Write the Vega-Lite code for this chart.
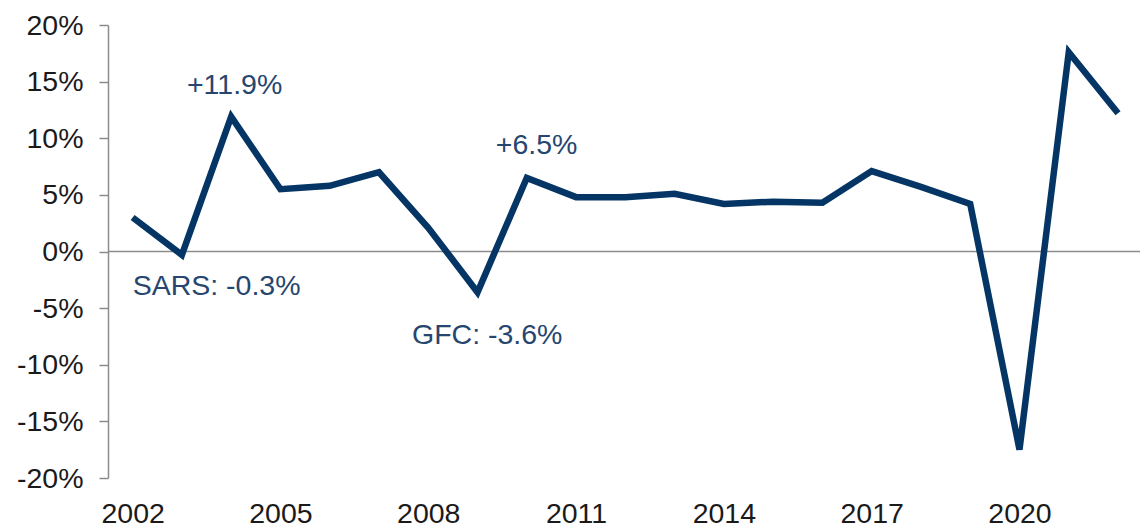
{
  "$schema": "https://vega.github.io/schema/vega-lite/v6.json",
  "autosize": "none",
  "width": 1032,
  "height": 453,
  "padding": {"left": 108, "top": 25, "right": 0, "bottom": 51},
  "background": "white",
  "config": {"view": {"stroke": null}, "font": "Liberation Sans"},
  "datasets": {
    "growth": [
      {"year": 2002, "value": 3.0},
      {"year": 2003, "value": -0.3},
      {"year": 2004, "value": 11.9},
      {"year": 2005, "value": 5.5},
      {"year": 2006, "value": 5.8},
      {"year": 2007, "value": 7.0},
      {"year": 2008, "value": 2.1},
      {"year": 2009, "value": -3.6},
      {"year": 2010, "value": 6.5},
      {"year": 2011, "value": 4.8},
      {"year": 2012, "value": 4.8},
      {"year": 2013, "value": 5.1},
      {"year": 2014, "value": 4.2},
      {"year": 2015, "value": 4.4},
      {"year": 2016, "value": 4.3},
      {"year": 2017, "value": 7.1},
      {"year": 2018, "value": 5.7},
      {"year": 2019, "value": 4.2},
      {"year": 2020, "value": -17.5},
      {"year": 2021, "value": 17.6},
      {"year": 2022, "value": 12.2}
    ],
    "zero": [{"v": 0}],
    "notesCenter": [
      {"x": 2004.07, "y": 13.9, "label": "+11.9%"},
      {"x": 2010.2, "y": 8.6, "label": "+6.5%"}
    ],
    "notesLeft": [
      {"x": 2002.0, "y": -3.8, "label": "SARS: -0.3%"},
      {"x": 2007.67, "y": -8.2, "label": "GFC: -3.6%"}
    ]
  },
  "layer": [
    {
      "data": {"name": "zero"},
      "mark": {"type": "rule", "color": "#8c8c8c", "strokeWidth": 1.5},
      "encoding": {
        "y": {"field": "v", "type": "quantitative", "scale": {"domain": [-20, 20]}}
      }
    },
    {
      "data": {"name": "growth"},
      "mark": {"type": "line", "color": "#043565", "strokeWidth": 6.5, "strokeJoin": "miter", "strokeCap": "butt"},
      "encoding": {
        "x": {
          "field": "year", "type": "quantitative",
          "scale": {"domain": [2001.5, 2022.446], "nice": false, "zero": false},
          "axis": {
            "values": [2002, 2005, 2008, 2011, 2014, 2017, 2020],
            "format": "d", "title": null, "grid": false, "domain": false,
            "ticks": false, "tickSize": 0, "labelPadding": 21,
            "labelFontSize": 28.5, "labelColor": "#1a1a1a", "labelFont": "Liberation Sans"
          }
        },
        "y": {
          "field": "value", "type": "quantitative",
          "scale": {"domain": [-20, 20], "nice": false},
          "axis": {
            "values": [-20, -15, -10, -5, 0, 5, 10, 15, 20],
            "labelExpr": "datum.value + '%'",
            "title": null, "grid": false,
            "domain": true, "domainColor": "#8c8c8c", "domainWidth": 1.5,
            "ticks": true, "tickColor": "#8c8c8c", "tickWidth": 1.5, "tickSize": 9,
            "labelPadding": 16, "labelFontSize": 28.5, "labelColor": "#1a1a1a",
            "labelFont": "Liberation Sans"
          }
        }
      }
    },
    {
      "data": {"name": "notesCenter"},
      "mark": {"type": "text", "fontSize": 28.5, "font": "Liberation Sans", "color": "#26466f", "baseline": "alphabetic", "align": "center"},
      "encoding": {
        "x": {"field": "x", "type": "quantitative"},
        "y": {"field": "y", "type": "quantitative"},
        "text": {"field": "label"}
      }
    },
    {
      "data": {"name": "notesLeft"},
      "mark": {"type": "text", "fontSize": 28.5, "font": "Liberation Sans", "color": "#26466f", "baseline": "alphabetic", "align": "left"},
      "encoding": {
        "x": {"field": "x", "type": "quantitative"},
        "y": {"field": "y", "type": "quantitative"},
        "text": {"field": "label"}
      }
    }
  ]
}
